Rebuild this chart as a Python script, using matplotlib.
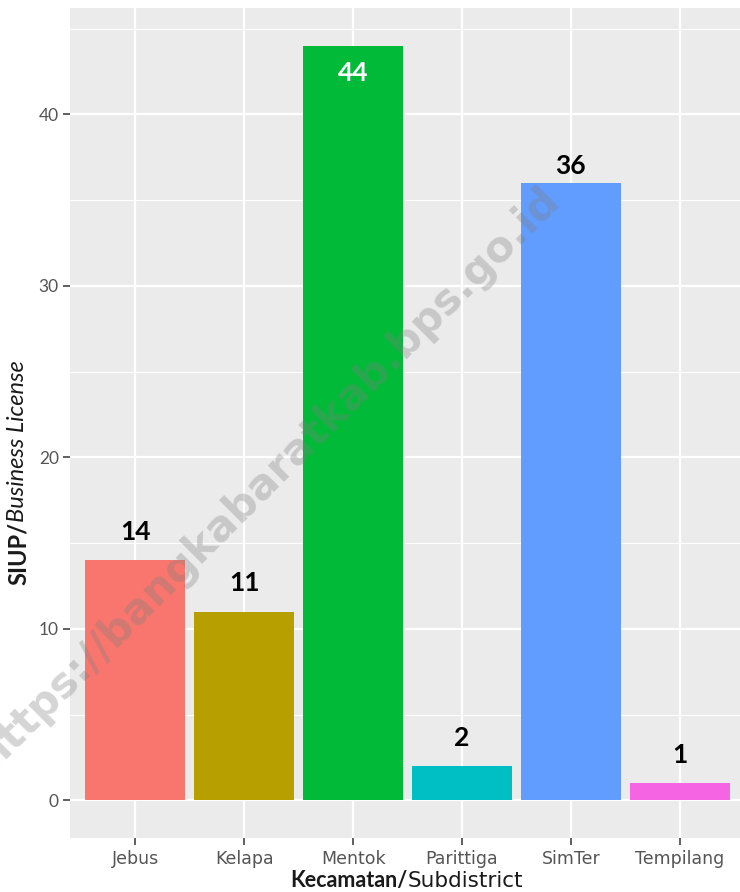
import matplotlib
matplotlib.use("Agg")
import matplotlib.pyplot as plt
from matplotlib.ticker import MultipleLocator

# Business licences (SIUP) issued per subdistrict
subdistricts = ["Jebus", "Kelapa", "Mentok", "Parittiga", "SimTer", "Tempilang"]
licenses = [14, 11, 44, 2, 36, 1]
bar_colors = ["#F8766D", "#B79F00", "#00BA38", "#00BFC4", "#619CFF", "#F564E3"]
# vertical offset of each value label from its bar top (data units)
label_offsets = [0.95, 0.95, -2.3, 0.95, 0.3, 0.95]

plt.rcParams["font.family"] = ["Lato", "DejaVu Sans"]

fig = plt.figure(figsize=(7.4, 8.92), dpi=100)
ax = fig.add_axes([70 / 740, 54 / 892, 675 / 740, 830 / 892])
ax.set_facecolor("#EBEBEB")

x = list(range(1, len(subdistricts) + 1))
ax.bar(x, licenses, width=0.92, color=bar_colors, zorder=3)

ymax = max(licenses)
for xi, v, off in zip(x, licenses, label_offsets):
    inside = v == ymax
    ax.text(xi, v + off, str(v), ha="center", va="bottom",
            fontsize=19, fontweight="bold",
            color="white" if inside else "black", zorder=12)

ax.set_xlim(0.4, 6.6)
ax.set_ylim(-ymax * 0.05, ymax * 1.05)
ax.set_xticks(x)
ax.set_xticklabels(subdistricts, fontfamily="DejaVu Sans", fontsize=12.5)
ax.yaxis.set_major_locator(MultipleLocator(10))
ax.yaxis.set_minor_locator(MultipleLocator(5))

ax.grid(which="major", color="white", linewidth=1.6, zorder=0)
ax.grid(which="minor", axis="y", color="white", linewidth=0.8, zorder=0)
ax.set_axisbelow(True)
for s in ax.spines.values():
    s.set_visible(False)

ax.tick_params(axis="both", which="major", length=5, width=1.1,
               color="#333333", labelcolor="#555555", pad=3)
ax.tick_params(axis="y", which="major", labelsize=12.5)
ax.tick_params(axis="x", which="major", pad=4)
ax.tick_params(axis="y", which="minor", length=0)

# axis titles with mixed bold / italic parts
fig.text(408 / 740, 5 / 892, "Kecamatan/", ha="right", va="baseline",
         fontsize=15.5, fontweight="bold", color="#1a1a1a")
fig.text(408 / 740, 5 / 892, "Subdistrict", ha="left", va="baseline",
         fontsize=15.5, fontfamily="DejaVu Sans", color="#1a1a1a")
fig.text(18 / 740, 1 - 522 / 892, "SIUP/", rotation=90, ha="center", va="top",
         fontsize=17, fontweight="bold", color="#1a1a1a")
fig.text(18 / 740, 1 - 522 / 892, "Business License", rotation=90,
         ha="center", va="bottom", fontsize=17, style="italic",
         color="#1a1a1a")

# site watermark (runs off the left edge)
fig.text(268 / 740, 1 - 478 / 892, "https://bangkabaratkab.bps.go.id",
         rotation=45, ha="center", va="center", fontsize=30.5,
         fontfamily="DejaVu Sans", fontweight="bold", color="#808080",
         alpha=0.33, zorder=10)

fig.savefig("out.png", dpi=100)
